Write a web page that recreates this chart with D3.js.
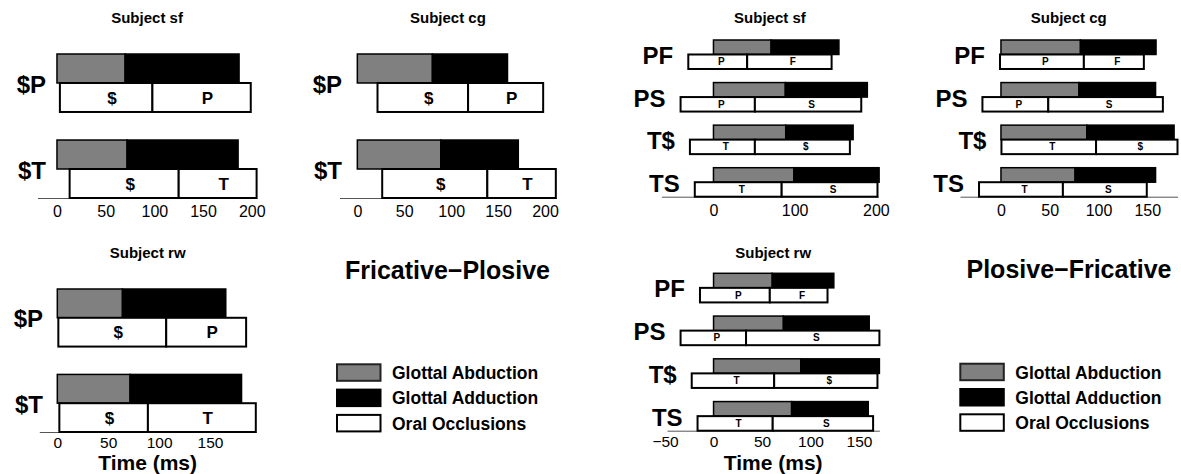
<!DOCTYPE html>
<html>
<head>
<meta charset="UTF-8">
<title>Gestes glottiques et occlusions orales</title>
<script src="https://cdn.jsdelivr.net/npm/d3@7"></script>
<style>
  body { margin: 0; background: #fff; }
  svg { font-family: "Liberation Sans", Arial, Helvetica, sans-serif; }
  .subject { font-size: 15px; font-weight: bold; text-anchor: middle; }
  .group { font-size: 25px; font-weight: bold; text-anchor: middle; }
  .rowlab { font-size: 24px; font-weight: bold; text-anchor: end; }
  .seg { font-weight: bold; text-anchor: middle; }
  .axis { font-family: "Liberation Sans", Arial, Helvetica, sans-serif; font-size: 16px; }
  .axis.low { font-size: 15.5px; }
  .axis path { stroke: #555; stroke-width: 1; }
  .xlab { font-size: 21px; font-weight: bold; text-anchor: middle; }
  .legend text { font-size: 17.5px; font-weight: bold; }
</style>
</head>
<body>
<div id="graphe"></div>
<script>
// fricative-plosive : lignes, segments oraux, graduations
var fpRows = ["$P", "$T"];
var fpSegs = [["$", "P"], ["$", "T"]];
var fpTicks = [0, 50, 100, 150, 200];
var fpTicksRw = [0, 50, 100, 150];
// glottal : [fin abduction, fin adduction], debut a 0 ms
var fpGlottalSf = [[70, 187], [72, 186]];
var fpGlottalCg = [[80, 160], [89, 171.5]];
var fpGlottalRw = [[64, 165.5], [71.5, 181]];
// oral : [debut, frontiere, fin]
var fpOralSf = [[3, 98, 199], [13, 125, 205]];
var fpOralCg = [[21.5, 118, 198], [26.5, 138.5, 211.5]];
var fpOralRw = [[1, 107, 185.5], [2, 89, 195]];

// plosive-fricative
var pfRows = ["PF", "PS", "T$", "TS"];
var pfSegs = [["P", "F"], ["P", "S"], ["T", "$"], ["T", "S"]];
var pfTicksSf = [0, 100, 200];
var pfTicksCg = [0, 50, 100, 150];
var pfTicksRw = [-50, 0, 50, 100, 150];
var pfGlottalSf = [[71, 154.5], [88.5, 189.5], [89, 172], [99, 204]];
var pfGlottalCg = [[81.5, 159], [80, 158.5], [88, 177.5], [76, 158.5]];
var pfGlottalRw = [[60.5, 124], [72, 160.5], [90, 171], [80.5, 159.5]];
var pfOralSf = [[-31, 41.5, 145.5], [-40.5, 51, 182], [-29, 51, 168], [-23, 84, 202]];
var pfOralCg = [[-1, 85, 146.5], [-19, 48.5, 166], [0.5, 97.5, 181], [-22.5, 63.5, 149.5]];
var pfOralRw = [[-14, 58, 117.5], [-34, 33.5, 171], [-22.5, 62.5, 169], [-16.5, 61, 164.5]];

var legendItems = ["Glottal Abduction", "Glottal Adduction", "Oral Occlusions"];
var legendColors = ["#808080", "#000000", "#ffffff"];

var panels = [
  {title: "Subject sf", rows: fpRows, segs: fpSegs, glottal: fpGlottalSf, oral: fpOralSf, ticks: fpTicks,
   dom: [-20, 205], xr: [37.5, 256.6], yr: [54, 198], pad: 0.326, ty: 23, tp: 8, lab: 46, big: true},
  {title: "Subject cg", rows: fpRows, segs: fpSegs, glottal: fpGlottalCg, oral: fpOralCg, ticks: fpTicks,
   dom: [-19, 212], xr: [339.5, 556.3], yr: [54, 198], pad: 0.326, ty: 23, tp: 8, lab: 342, big: true},
  {title: "Subject rw", rows: fpRows, segs: fpSegs, glottal: fpGlottalRw, oral: fpOralRw, ticks: fpTicksRw,
   dom: [-17.7, 195.2], xr: [39.3, 256], yr: [289, 432], pad: 0.326, ty: 258, tp: 5, lab: 43, big: true, xlab: true},
  {title: "Subject sf", rows: pfRows, segs: pfSegs, glottal: pfGlottalSf, oral: pfOralSf, ticks: pfTicksSf,
   dom: [-64, 203], xr: [661.5, 878.3], yr: [40, 196.7], pad: 0.319, ty: 23, tp: 8},
  {title: "Subject cg", rows: pfRows, segs: pfSegs, glottal: pfGlottalCg, oral: pfOralCg, ticks: pfTicksCg,
   dom: [-42, 181], xr: [960, 1177.5], yr: [40, 196.7], pad: 0.319, ty: 23, tp: 8},
  {title: "Subject rw", rows: pfRows, segs: pfSegs, glottal: pfGlottalRw, oral: pfOralRw, ticks: pfTicksRw,
   dom: [-48, 171], xr: [667, 879.4], yr: [273.3, 430.7], pad: 0.319, ty: 258, tp: 5, xlab: true}
];

var svg = d3.select("#graphe").append("svg")
  .attr("width", 1181)
  .attr("height", 474);

panels.forEach(drawPanel);

function drawPanel(p) {
  var x = d3.scaleLinear().domain(p.dom).range(p.xr);
  var y = d3.scaleBand().domain(p.rows).range(p.yr).paddingInner(p.pad).paddingOuter(0);
  var h = y.bandwidth() / 2;
  var segSize = p.big ? 17 : 10;
  var g = svg.append("g");

  g.append("text")
    .attr("class", "subject")
    .attr("x", (p.xr[0] + p.xr[1]) / 2)
    .attr("y", p.ty)
    .text(p.title);

  g.append("g")
    .attr("class", p.xlab ? "axis low" : "axis")
    .attr("transform", "translate(0," + p.yr[1] + ")")
    .call(d3.axisBottom(x).tickValues(p.ticks).tickSize(0).tickPadding(p.tp))
    .attr("font-size", null)
    .attr("font-family", null);

  if (p.xlab) {
    g.append("text")
      .attr("class", "xlab")
      .attr("x", (p.xr[0] + p.xr[1]) / 2)
      .attr("y", 470)
      .text("Time (ms)");
  }

  var data = p.rows.map(function(name, i) {
    return {name: name, glottal: p.glottal[i], oral: p.oral[i], segs: p.segs[i]};
  });

  var row = g.selectAll(".row")
    .data(data)
    .enter().append("g")
    .attr("class", "row")
    .attr("transform", function(d) {
      return "translate(0," + y(d.name) + ")";
    });

  // abduction (gris) puis adduction (noir)
  row.append("rect")
    .attr("x", x(0))
    .attr("y", 0)
    .attr("width", function(d) { return x(d.glottal[0]) - x(0); })
    .attr("height", h)
    .attr("fill", legendColors[0])
    .attr("stroke", "#000")
    .attr("stroke-width", 1.5);

  row.append("rect")
    .attr("x", function(d) { return x(d.glottal[0]); })
    .attr("y", 0)
    .attr("width", function(d) { return x(d.glottal[1]) - x(d.glottal[0]); })
    .attr("height", h)
    .attr("fill", legendColors[1])
    .attr("stroke", "#000")
    .attr("stroke-width", 1.5);

  // occlusions orales
  var seg = row.selectAll(".oral")
    .data(function(d) {
      return [
        {a: d.oral[0], b: d.oral[1], t: d.segs[0]},
        {a: d.oral[1], b: d.oral[2], t: d.segs[1]}
      ];
    })
    .enter().append("g")
    .attr("class", "oral");

  seg.append("rect")
    .attr("x", function(d) { return x(d.a); })
    .attr("y", h)
    .attr("width", function(d) { return x(d.b) - x(d.a); })
    .attr("height", h)
    .attr("fill", legendColors[2])
    .attr("stroke", "#000")
    .attr("stroke-width", 2);

  seg.append("text")
    .attr("class", "seg")
    .attr("font-size", segSize)
    .attr("x", function(d) { return (x(d.a) + x(d.b)) / 2 + segSize * 0.35; })
    .attr("y", h * 1.5)
    .attr("dy", "0.36em")
    .text(function(d) { return d.t; });

  row.append("text")
    .attr("class", "rowlab")
    .attr("x", function(d) { return p.big ? p.lab : x(d.oral[0]) - 15; })
    .attr("y", h + 1)
    .attr("dy", "0.36em")
    .text(function(d) { return d.name; });
}

drawLegend("Fricative\u2212Plosive", 447.5, 279, 336, 363.3);
drawLegend("Plosive\u2212Fricative", 1069, 278, 959.3, 362.7);

function drawLegend(title, tx, ty, lx, ly) {
  svg.append("text")
    .attr("class", "group")
    .attr("x", tx)
    .attr("y", ty)
    .text(title);

  var item = svg.append("g")
    .attr("class", "legend")
    .attr("transform", "translate(" + lx + "," + ly + ")")
    .selectAll("g")
    .data(legendItems)
    .enter().append("g")
    .attr("transform", function(d, i) { return "translate(0," + (i * 25.3) + ")"; });

  item.append("rect")
    .attr("x", 1)
    .attr("y", 1)
    .attr("width", 43.5)
    .attr("height", 16.5)
    .attr("fill", function(d, i) { return legendColors[i]; })
    .attr("stroke", function(d, i) { return i === 0 ? "#222" : "#000"; })
    .attr("stroke-width", 2);

  item.append("text")
    .attr("x", 56)
    .attr("y", 9.5)
    .attr("dy", "0.36em")
    .text(function(d) { return d; });
}
</script>
</body>
</html>
